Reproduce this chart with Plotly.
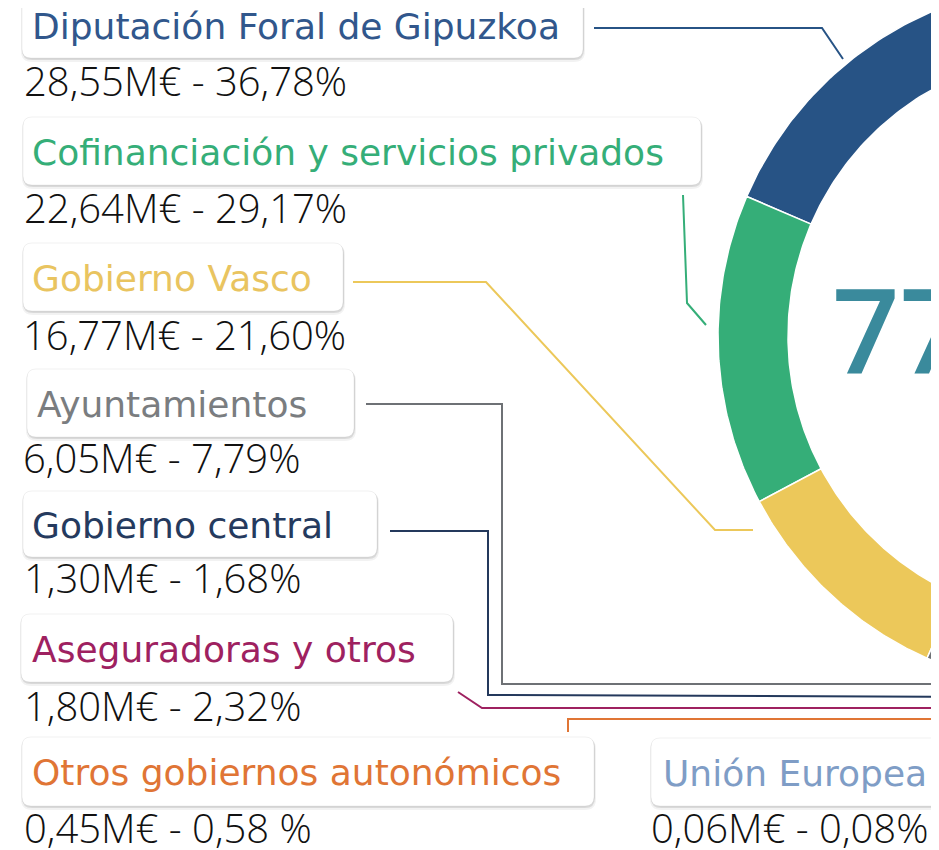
import numpy as np
import plotly.graph_objects as go

# ── Data ──────────────────────────────────────────────────────────────────────
LABELS = [
    'Diputación Foral de Gipuzkoa',
    'Cofinanciación y servicios privados',
    'Gobierno Vasco',
    'Ayuntamientos',
    'Gobierno central',
    'Aseguradoras y otros',
    'Otros gobiernos autonómicos',
    'Unión Europea',
]
AMOUNTS_MEUR = [28.55, 22.64, 16.77, 6.05, 1.30, 1.80, 0.45, 0.06]
SHARES_PCT   = [36.78, 29.17, 21.60, 7.79, 1.68, 2.32, 0.58, 0.08]
VALUE_TEXT = [
    '28,55M€ - 36,78%',
    '22,64M€ - 29,17%',
    '16,77M€ - 21,60%',
    '6,05M€ - 7,79%',
    '1,30M€ - 1,68%',
    '1,80M€ - 2,32%',
    '0,45M€ - 0,58 %',
    '0,06M€ - 0,08%',
]

# ── Styling ───────────────────────────────────────────────────────────────────
SLICE_COLORS = ['#275385', '#35ae78', '#ecc85a', '#6e7175',
                '#24395c', '#9e2160', '#e07535', '#7e9ec8']
LABEL_COLORS = ['#31578c', '#35ae78', '#e9c460', '#7a7d80',
                '#253a5e', '#9e2160', '#e07535', '#7f9dc6']
TOTAL_COLOR = '#3a8a9c'

# the page body keeps its default 8px margin, so the plot is shifted by that;
# axis ranges start at 8 so that data units equal window pixels
PAGE_MARGIN = 8
W, H = 939, 850

# half-donut, centre lies just off the right edge of the canvas
CX, CY = 1071, 336
R_OUT, R_IN = 353, 283
START_DEG, SWEEP_DEG = 2.1, 175.7   # measured from 12 o'clock, counter-clockwise

# label boxes (x0, y0, x1, y1) and text anchors
BOXES = [
    (22, -8, 583, 58),
    (23, 117, 701, 185),
    (23, 243, 343, 311),
    (27, 369, 354, 437),
    (23, 491, 377, 557),
    (21, 614, 453, 682),
    (22, 737, 594, 806),
    (651, 738, 970, 806),
]
LABEL_X = [30, 30, 30, 35, 30, 30, 30, 661]
VALUE_POS = [(22, 80), (22, 207), (21, 334), (21, 457),
             (22, 577), (22, 705), (22, 827), (649, 827)]

# connector polylines (box → slice)
CONNECTORS = [
    [(594, 28), (822, 28), (843, 59)],
    [(683, 195), (687, 303), (706, 325)],
    [(353, 282), (486, 282), (715, 530), (753, 530)],
    [(366, 404), (502, 404), (502, 684), (1000, 684)],
    [(390, 531), (488, 531), (488, 695), (1000, 697)],
    [(458, 692), (482, 708), (1000, 708)],
    [(568, 732), (568, 719), (1000, 719)],
]


def _xy(r, phi_deg):
    phi = np.radians(phi_deg)
    return CX - r * np.sin(phi), CY - r * np.cos(phi)


def _round_rect(x0, y0, x1, y1, r=9):
    return (f'M{x0 + r},{y0} L{x1 - r},{y0} Q{x1},{y0} {x1},{y0 + r} '
            f'L{x1},{y1 - r} Q{x1},{y1} {x1 - r},{y1} L{x0 + r},{y1} '
            f'Q{x0},{y1} {x0},{y1 - r} L{x0},{y0 + r} Q{x0},{y0} {x0 + r},{y0} Z')


fig = go.Figure()

# ── Donut slices ──────────────────────────────────────────────────────────────
cum = np.concatenate([[0], np.cumsum(SHARES_PCT)]) / 100.0
for i, lab in enumerate(LABELS):
    a = START_DEG + SWEEP_DEG * cum[i]
    b = START_DEG + SWEEP_DEG * cum[i + 1]
    t = np.linspace(a, b, 80)
    xo, yo = _xy(R_OUT, t)
    xi, yi = _xy(R_IN, t[::-1])
    fig.add_trace(go.Scatter(
        x=np.concatenate([xo, xi, xo[:1]]),
        y=np.concatenate([yo, yi, yo[:1]]),
        fill='toself', fillcolor=SLICE_COLORS[i],
        line=dict(color='white', width=1.5),
        mode='lines', name=lab, hoverinfo='name', showlegend=False,
    ))

# ── Connectors ────────────────────────────────────────────────────────────────
for i, pts in enumerate(CONNECTORS):
    fig.add_trace(go.Scatter(
        x=[p[0] for p in pts], y=[p[1] for p in pts],
        mode='lines', line=dict(color=SLICE_COLORS[i], width=2),
        hoverinfo='skip', showlegend=False,
    ))

# ── Total in the centre ───────────────────────────────────────────────────────
total_txt = f'{sum(AMOUNTS_MEUR):.2f}'.replace('.', ',') + 'M€'
fig.add_trace(go.Scatter(
    x=[CX], y=[CY + 7], mode='text', text=[total_txt],
    textposition='middle center', cliponaxis=True,
    textfont=dict(family='Open Sans', size=118, color=TOTAL_COLOR, weight=600),
    hoverinfo='skip', showlegend=False,
))

# ── Label boxes ───────────────────────────────────────────────────────────────
shapes = []
for (x0, y0, x1, y1) in BOXES:
    shapes.append(dict(type='path', path=_round_rect(x0 - 1, y0 + 1, x1 + 2, y1 + 4, 11),
                       fillcolor='rgba(0,0,0,0.05)', line=dict(width=0), layer='below'))
    shapes.append(dict(type='path', path=_round_rect(x0, y0 + 1, x1 + 1, y1 + 2, 10),
                       fillcolor='rgba(0,0,0,0.10)', line=dict(width=0), layer='below'))
    shapes.append(dict(type='path', path=_round_rect(x0, y0, x1, y1, 9),
                       fillcolor='white', line=dict(color='rgba(0,0,0,0.06)', width=1),
                       layer='below'))

annotations = []
for i, lab in enumerate(LABELS):
    x0, y0, x1, y1 = BOXES[i]
    annotations.append(dict(
        x=LABEL_X[i], y=(y0 + y1) / 2 + 1, xref='x', yref='y',
        text=lab, showarrow=False, xanchor='left', yanchor='middle',
        font=dict(family='DejaVu Sans', size=36, color=LABEL_COLORS[i]),
    ))
    vx, vy = VALUE_POS[i]
    annotations.append(dict(
        x=vx, y=vy, xref='x', yref='y',
        text=VALUE_TEXT[i], showarrow=False, xanchor='left', yanchor='middle',
        font=dict(family='Open Sans', size=40, color='#111111', weight=300),
    ))

fig.update_layout(
    width=W - PAGE_MARGIN, height=H - PAGE_MARGIN,
    margin=dict(l=0, r=0, t=0, b=0),
    paper_bgcolor='white', plot_bgcolor='white',
    xaxis=dict(range=[PAGE_MARGIN, W], visible=False, fixedrange=True),
    yaxis=dict(range=[H, PAGE_MARGIN], visible=False, fixedrange=True),
    shapes=shapes, annotations=annotations,
    showlegend=False,
)

fig.write_html('out.html')
